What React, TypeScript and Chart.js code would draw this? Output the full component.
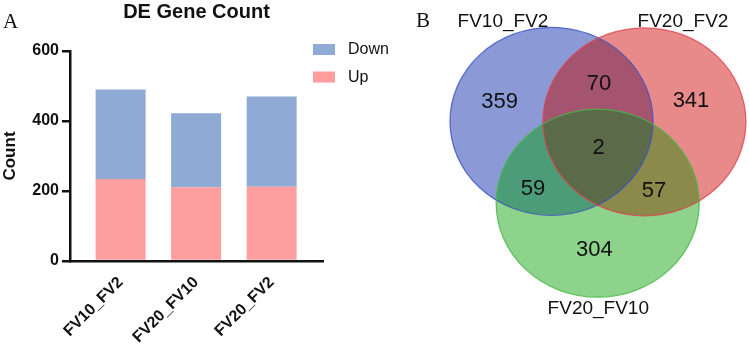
import React, { useEffect, useRef } from 'react';
import { Chart, registerables } from 'chart.js';

Chart.register(...registerables);

// ---------- Panel A data ----------
const CATEGORIES = ['FV10_FV2', 'FV20_FV10', 'FV20_FV2'];
const UP_VALUES = [234, 211, 212];
const DOWN_VALUES = [256, 211, 258];
const Y_TICKS = [0, 200, 400, 600];

// ---------- Panel B data ----------
const VENN_SETS = ['FV10_FV2', 'FV20_FV2', 'FV20_FV10'];
// regions: A only, A∩B, B only, A∩B∩C, A∩C, B∩C, C only
const VENN_REGIONS = ['A', 'AB', 'B', 'ABC', 'AC', 'BC', 'C'];
const VENN_COUNTS = [359, 70, 341, 2, 59, 57, 304];

// ---------- Layout / style (not data) ----------
const FONT = '"Liberation Sans", Arial, Helvetica, sans-serif';
const SERIF = '"Liberation Serif", "Times New Roman", serif';
const INK = '#111111';
const UP_COLOR = '#fe9e9f';
const DOWN_COLOR = '#8eaad5';

// Venn geometry in unit space (each ellipse has radius 1 on both axes)
const VENN_CENTERS = [
  [-0.455, 0.435],
  [0.46, 0.43],
  [0.0, -0.435],
];
const VENN_REGION_ANCHORS = [
  [-0.966, 0.654],
  [0.013, 0.84],
  [0.919, 0.668],
  [0.01, 0.162],
  [-0.637, -0.274],
  [0.555, -0.292],
  [-0.032, -0.92],
];
const VENN_SET_LABEL_ANCHORS = [
  [-0.933, 1.51],
  [0.84, 1.508],
  [0.006, -1.545],
];
const VENN_FILLS = {
  A: '#8b9ad6',
  B: '#e8898a',
  C: '#8dd38b',
  AB: '#a5546f',
  AC: '#4c9c78',
  BC: '#8b8a4b',
  ABC: '#5b6b49',
};
const VENN_STROKES = ['rgba(60,82,195,0.8)', 'rgba(218,70,78,0.8)', 'rgba(70,182,70,0.8)'];

const legendPlugin = {
  id: 'customLegend',
  afterDraw(chart: any) {
    const { ctx, chartArea } = chart;
    const ds = chart.data.datasets.slice().reverse();
    ctx.save();
    ds.forEach((d: any, i: number) => {
      const top = chartArea.top - 7 + i * 27.5;
      const left = chartArea.right - 10;
      ctx.fillStyle = d.backgroundColor;
      ctx.fillRect(left, top, 22, 11);
      ctx.fillStyle = INK;
      ctx.font = `16px ${FONT}`;
      ctx.textBaseline = 'middle';
      ctx.textAlign = 'left';
      ctx.fillText(d.label, left + 35, top + 6);
    });
    ctx.font = `21px ${SERIF}`;
    ctx.textBaseline = 'alphabetic';
    ctx.fillText('A', 3, 28);
    ctx.restore();
  },
};

const vennPlugin = {
  id: 'venn',
  beforeDatasetsDraw(chart: any) {
    const { ctx, scales } = chart;
    const x = scales.x;
    const y = scales.y;
    const path = (i: number) => {
      const [cx, cy] = VENN_CENTERS[i];
      const px = x.getPixelForValue(cx);
      const py = y.getPixelForValue(cy);
      const rx = x.getPixelForValue(cx + 1) - px;
      const ry = py - y.getPixelForValue(cy + 1);
      ctx.beginPath();
      ctx.ellipse(px, py, rx, ry, 0, 0, Math.PI * 2);
    };
    ctx.save();
    ['A', 'B', 'C'].forEach((k, i) => {
      path(i);
      ctx.fillStyle = (VENN_FILLS as any)[k];
      ctx.fill();
    });
    const overlap = (clipIdx: number[], fillIdx: number, color: string) => {
      ctx.save();
      clipIdx.forEach((c) => {
        path(c);
        ctx.clip();
      });
      path(fillIdx);
      ctx.fillStyle = color;
      ctx.fill();
      ctx.restore();
    };
    overlap([0], 1, VENN_FILLS.AB);
    overlap([0], 2, VENN_FILLS.AC);
    overlap([1], 2, VENN_FILLS.BC);
    overlap([0, 1], 2, VENN_FILLS.ABC);
    VENN_STROKES.forEach((s, i) => {
      path(i);
      ctx.strokeStyle = s;
      ctx.lineWidth = 1.3;
      ctx.stroke();
    });
    ctx.restore();
  },
  afterDatasetsDraw(chart: any) {
    const { ctx, scales } = chart;
    const meta = chart.getDatasetMeta(0);
    ctx.save();
    ctx.fillStyle = INK;
    ctx.textAlign = 'center';
    ctx.textBaseline = 'middle';
    ctx.font = `22px ${FONT}`;
    meta.data.forEach((el: any, i: number) => {
      ctx.fillText(String(VENN_COUNTS[i]), el.x, el.y + 1);
    });
    ctx.font = `19px ${FONT}`;
    VENN_SETS.forEach((name, i) => {
      const [lx, ly] = VENN_SET_LABEL_ANCHORS[i];
      ctx.fillText(name, scales.x.getPixelForValue(lx), scales.y.getPixelForValue(ly) + 1);
    });
    ctx.font = `21px ${SERIF}`;
    ctx.textAlign = 'left';
    ctx.textBaseline = 'alphabetic';
    ctx.fillText('B', 16, 27);
    ctx.restore();
  },
};

export default function App() {
  const barRef = useRef<HTMLCanvasElement>(null);
  const vennRef = useRef<HTMLCanvasElement>(null);

  useEffect(() => {
    const tickFont = { family: FONT, size: 16, weight: 'bold' as const };
    const bar = new Chart(barRef.current!, {
      type: 'bar',
      data: {
        datasets: [
          {
            label: 'Up',
            data: UP_VALUES.map((v, i) => ({ x: i, y: v })),
            backgroundColor: UP_COLOR,
            categoryPercentage: 1,
            barPercentage: 0.662,
          },
          {
            label: 'Down',
            data: DOWN_VALUES.map((v, i) => ({ x: i, y: v })),
            backgroundColor: DOWN_COLOR,
            categoryPercentage: 1,
            barPercentage: 0.662,
          },
        ],
      },
      options: {
        animation: false,
        responsive: false,
        events: [],
        layout: { padding: { left: 0, right: 77, top: 0, bottom: 0 } },
        scales: {
          x: {
            type: 'linear',
            min: -0.67,
            max: 2.68,
            offset: false,
            stacked: true,
            grid: { display: false, offset: false },
            border: { display: true, color: INK, width: 2.5 },
            afterBuildTicks: (s: any) => {
              s.ticks = CATEGORIES.map((_, i) => ({ value: i }));
            },
            afterFit: (s: any) => {
              s.height = 85;
            },
            ticks: {
              autoSkip: false,
              minRotation: 45,
              maxRotation: 45,
              color: INK,
              font: tickFont,
              padding: 4,
              callback: (v: any) => CATEGORIES[v as number] ?? '',
            },
          },
          y: {
            stacked: true,
            min: 0,
            max: 600,
            afterBuildTicks: (s: any) => {
              s.ticks = Y_TICKS.map((v) => ({ value: v }));
            },
            afterFit: (s: any) => {
              s.width = 70;
            },
            ticks: { color: INK, font: tickFont, padding: 3 },
            grid: {
              drawOnChartArea: false,
              drawTicks: true,
              tickLength: 8,
              lineWidth: 2.5,
              color: INK,
            },
            border: { display: true, color: INK, width: 2.5 },
            title: {
              display: true,
              text: 'Count',
              color: INK,
              font: { family: FONT, size: 17, weight: 'bold' },
              padding: { top: 0, bottom: 0 },
            },
          },
        },
        plugins: {
          legend: { display: false },
          tooltip: { enabled: false },
          title: {
            display: true,
            text: 'DE Gene Count',
            fullSize: false,
            color: INK,
            font: { family: FONT, size: 20, weight: 'bold' },
            padding: { top: 0, bottom: 27 },
          },
        },
      } as any,
      plugins: [legendPlugin],
    });

    const venn = new Chart(vennRef.current!, {
      type: 'scatter',
      data: {
        labels: VENN_REGIONS,
        datasets: [
          {
            label: 'regions',
            data: VENN_REGION_ANCHORS.map(([x, y]) => ({ x, y })),
            pointRadius: 0,
            pointHoverRadius: 0,
          },
        ],
      },
      options: {
        animation: false,
        responsive: false,
        events: [],
        layout: { padding: 0 },
        scales: {
          x: { type: 'linear', display: false, min: -1.9478, max: 1.4906 },
          y: { type: 'linear', display: false, min: -1.9548, max: 1.7261 },
        },
        plugins: { legend: { display: false }, tooltip: { enabled: false } },
      } as any,
      plugins: [vennPlugin],
    });

    return () => {
      bar.destroy();
      venn.destroy();
    };
  }, []);

  return (
    <div style={{ position: 'absolute', left: 0, top: 0, width: 749, height: 346, background: '#fff' }}>
      <canvas ref={barRef} width={400} height={346} style={{ position: 'absolute', left: 0, top: 0 }} />
      <canvas ref={vennRef} width={349} height={346} style={{ position: 'absolute', left: 400, top: 0 }} />
    </div>
  );
}
